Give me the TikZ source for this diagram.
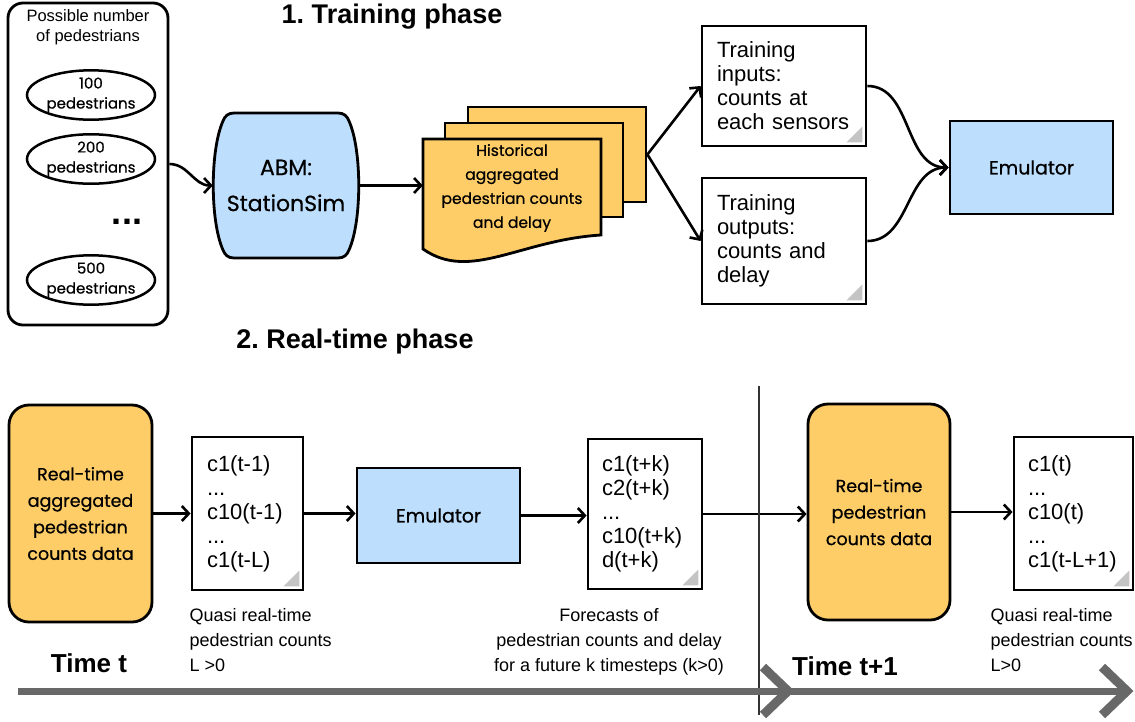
\documentclass[tikz,border=0pt]{standalone}
\usepackage{fontspec}
\setmainfont{Liberation Sans}
\newfontfamily\futura[FakeBold=0.6]{Poppins}
\usetikzlibrary{shapes.geometric,arrows.meta}
\definecolor{skyfill}{RGB}{189,222,252}
\definecolor{sandfill}{RGB}{255,205,104}
\definecolor{foldgray}{RGB}{196,196,196}
\definecolor{axisgray}{RGB}{104,104,104}
\frenchspacing
\begin{document}
\begin{tikzpicture}[x=1pt,y=-1pt,
	box/.style={draw,line width=2.8pt,inner sep=0pt},
	bluebox/.style={box,fill=skyfill,font=\futura\fontsize{19}{24}\selectfont},
	orangebox/.style={box,fill=sandfill,rounded corners=20pt,align=center,font=\futura\fontsize{17.5}{26.5}\selectfont},
	popell/.style={draw,line width=2.5pt,ellipse,inner sep=0pt,minimum width=128pt,minimum height=42pt,align=center,font=\futura\fontsize{15}{20}\selectfont},
	note/.style={box,fill=white,align=left,inner xsep=15pt,font=\fontsize{22}{24}\selectfont},
	flow/.style={line width=2.6pt,-{Straight Barb[length=7pt,width=15pt]}},
	caption/.style={font=\fontsize{18}{25}\selectfont},
	phase/.style={font=\bfseries\fontsize{27}{30}\selectfont}]
	\useasboundingbox (0,0) rectangle (1135,721);

	% 1. training phase
	\node[phase] (ttrain) at (392,17) {1. Training phase};
	\node[box,rounded corners=15pt,minimum width=160pt,minimum height=322pt] (pool) at (88,164) {};
	\node[align=center,font=\fontsize{16.5}{20}\selectfont] (pooltxt) at (88,27) {Possible number\\of pedestrians};
	\node[popell] (p100) at (91,95) {100\\pedestrians};
	\node[popell] (p200) at (91,159) {200\\pedestrians};
	\node[font=\bfseries\fontsize{36}{36}\selectfont] (pdots) at (127,222) {...};
	\node[popell] (p500) at (91,280) {500\\pedestrians};

	\filldraw[box,fill=skyfill] (286,113) -- (338,113) .. controls (344,113) and (347,116) .. (349,121) .. controls (362,150) and (362,221) .. (349,250) .. controls (347,255) and (344,258) .. (338,258) -- (234,258) .. controls (228,258) and (225,255) .. (223,250) .. controls (210,221) and (210,150) .. (223,121) .. controls (225,116) and (228,113) .. (234,113) -- cycle;
	\node[align=center,font=\futura\fontsize{22}{36}\selectfont,minimum width=146pt,minimum height=145pt] (abm) at (286,185.5) {ABM:\\StationSim};

	\node[box,fill=sandfill,minimum width=178pt,minimum height=95pt] (histback) at (557,154.5) {};
	\node[box,fill=sandfill,minimum width=178pt,minimum height=94pt] (histmid) at (534,170) {};
	\filldraw[box,fill=sandfill] (423,139) -- (601,139) -- (601,235) .. controls (520,240) and (470,282) .. (423,249) -- cycle;
	\node[align=center,font=\futura\fontsize{15.5}{24}\selectfont,minimum width=178pt,minimum height=110pt] (hist) at (512,188) {Historical\\aggregated\\pedestrian counts\\and delay};

	\node[note,text width=134pt,minimum height=120pt] (tin) at (784,86) {Training\\inputs:\\counts at\\each sensors};
	\node[note,text width=134pt,minimum height=126pt] (tout) at (784,241) {Training\\outputs:\\counts and\\delay};
	\node[bluebox,minimum width=163pt,minimum height=93pt] (emu1) at (1031.5,167.5) {Emulator};

	\draw[flow] (pool.east) to[out=0,in=180] (abm.west);
	\draw[flow] (abm.east) -- (abm.east -| hist.west);
	\draw[flow] (histback.east) -- (tin.west);
	\draw[flow] (histback.east) -- (tout.west);
	\draw[flow] (tin.east) to[out=0,in=180] (emu1.west);
	\draw[flow] (tout.east) to[out=0,in=180] (emu1.west);

	% 2. real-time phase
	\node[phase] (trt) at (355,342) {2. Real-time phase};
	\node[orangebox,minimum width=143pt,minimum height=217pt] (rt1) at (80.5,513.5) {Real-time\\aggregated\\pedestrian\\counts data};
	\node[note,text width=81pt,minimum height=153pt] (qa) at (247.5,513.5) {c1(t-1)\\...\\c10(t-1)\\...\\c1(t-L)};
	\node[bluebox,minimum width=163pt,minimum height=95pt] (emu2) at (438.5,515.5) {Emulator};
	\node[note,text width=86pt,inner xsep=14pt,minimum height=150pt] (fc) at (645,514) {c1(t+k)\\c2(t+k)\\...\\c10(t+k)\\d(t+k)};
	\node[orangebox,minimum width=142pt,minimum height=216pt] (rt2) at (879,512) {Real-time\\pedestrian\\counts data};
	\node[note,text width=91pt,inner xsep=14pt,minimum height=153pt] (qb) at (1073.5,513.5) {c1(t)\\...\\c10(t)\\...\\c1(t-L+1)};

	\draw[flow] (rt1.east) -- (rt1.east -| qa.west);
	\draw[flow] (qa.east) -- (qa.east -| emu2.west);
	\draw[flow] (emu2.east) -- (emu2.east -| fc.west);
	\draw[flow] (fc.east) -- (fc.east -| rt2.west);
	\draw[flow] (rt2.east) -- (rt2.east -| qb.west);

	\foreach \n in {tin,tout,qa,fc,qb}
		\fill[foldgray] ([shift={(-5,-5)}]\n.south east) -- ++(-16,0) -- ++(16,-16) -- cycle;

	\node[caption,align=left,anchor=north west] (qacap) at (186,605) {Quasi real-time\\pedestrian counts\\L >0};
	\node[caption,align=center,anchor=north] (fccap) at (609,605) {Forecasts of\\pedestrian counts and delay\\for a future k timesteps (k>0)};
	\node[caption,align=left,anchor=north west] (qbcap) at (987,605) {Quasi real-time\\pedestrian counts\\L>0};
	\node[phase,font=\bfseries\fontsize{26}{30}\selectfont] (tt) at (89,663) {Time t};
	\node[phase,font=\bfseries\fontsize{26}{30}\selectfont] (tt1) at (845,666) {Time t+1};

	% time axis
	\coordinate (dv0) at (759,386);
	\coordinate (dv1) at (759,715);
	\draw[line width=1.2pt,black!80] (dv0) -- (dv1);
	\coordinate (tl0) at (18,691);
	\coordinate (tl1) at (788,691);
	\coordinate (tl2) at (1127,691);
	\draw[axisgray,line width=7pt] (tl0) -- (tl2);
	\foreach \tip in {tl1,tl2}
		\draw[axisgray,line width=9pt,line join=miter] ([shift={(-25,-24)}]\tip) -- (\tip) -- ([shift={(-25,24)}]\tip);
\end{tikzpicture}
\end{document}
